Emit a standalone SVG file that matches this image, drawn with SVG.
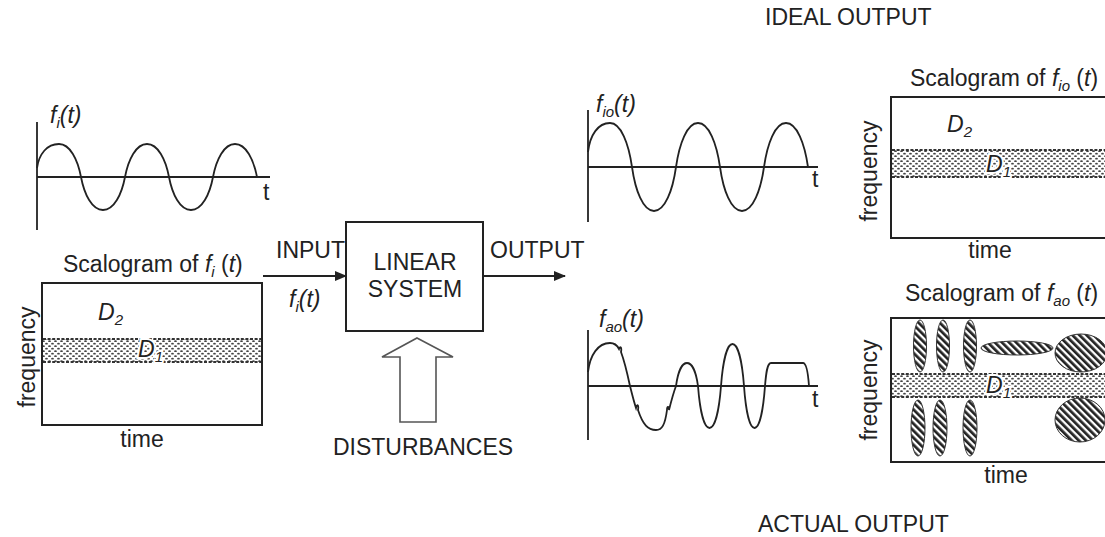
<svg xmlns="http://www.w3.org/2000/svg" width="1105" height="537" viewBox="0 0 1105 537">
<defs>
<style>
text{font-family:"Liberation Sans",Arial,sans-serif;font-size:23px;fill:#222}
.it{font-style:italic}
.ln{fill:none;stroke:#222;stroke-width:1.8}
.wave{fill:none;stroke:#222;stroke-width:1.8}
.box{fill:none;stroke:#222;stroke-width:2}
.band{fill:url(#dots)}
.bandedge{stroke:#333;stroke-width:1.8;stroke-dasharray:3 1.6;fill:none}
.hat{fill:url(#hatch);stroke:#333;stroke-width:1}
.lbl{paint-order:stroke;stroke:#fff;stroke-width:4}
</style>
<pattern id="dots" patternUnits="userSpaceOnUse" width="6" height="5">
<rect width="6" height="5" fill="#fff"/>
<ellipse cx="1.5" cy="1.2" rx="1.4" ry="0.9" fill="#444"/>
<ellipse cx="4.5" cy="3.7" rx="1.4" ry="0.9" fill="#444"/>
</pattern>
<pattern id="hatch" patternUnits="userSpaceOnUse" width="5" height="5" patternTransform="rotate(-45)">
<rect width="5" height="5" fill="#fff"/>
<rect width="2.7" height="5" fill="#222"/>
</pattern>
<marker id="arr" markerWidth="12" markerHeight="10" refX="11" refY="5" orient="auto" markerUnits="userSpaceOnUse">
<path d="M0,0 L12,5 L0,10 z" fill="#222"/>
</marker>
</defs>
<rect width="1105" height="537" fill="#fff"/>

<g id="title-ideal"><text x="765" y="25">IDEAL OUTPUT</text></g>
<g id="title-actual"><text x="758" y="532">ACTUAL OUTPUT</text></g>

<g id="input-signal">
<line class="ln" x1="37" y1="122" x2="37" y2="230"/>
<line class="ln" x1="37" y1="177" x2="270" y2="177"/>
<path class="wave" d="M37,168 c2,-14 10,-24 22,-24 c11,0 18.7,15.5 22,33 c3.3,17.5 11,33 22,33 c11,0 18.7,-15.5 22,-33 c3.3,-17.5 11,-33 22,-33 c11,0 18.7,15.5 22,33 c3.3,17.5 11,33 22,33 c11,0 18.7,-15.5 22,-33 c3.3,-17.5 11,-33 22,-33 c11,0 18.7,15.5 22,33"/>
<text x="50" y="123" class="it">f<tspan font-size="15" dy="5">i</tspan><tspan dy="-5">(t)</tspan></text>
<text x="263" y="200">t</text>
</g>

<g id="input-scalogram">
<text x="63" y="272">Scalogram of <tspan class="it">f</tspan><tspan class="it" font-size="15" dy="5">i</tspan><tspan dy="-5"> (</tspan><tspan class="it">t</tspan>)</text>
<rect class="band" x="43" y="339" width="218" height="23"/>
<line class="bandedge" x1="43" y1="339" x2="261" y2="339"/>
<line class="bandedge" x1="43" y1="362" x2="261" y2="362"/>
<rect class="box" x="42" y="283" width="220" height="142"/>
<text x="98" y="320" class="it">D<tspan font-size="15" dy="5">2</tspan></text>
<text x="138" y="357" class="it lbl">D<tspan font-size="15" dy="5">1</tspan></text>
<text x="142" y="447" text-anchor="middle">time</text>
<text x="35" y="357" text-anchor="middle" transform="rotate(-90 35 357)">frequency</text>
</g>

<g id="linear-system">
<rect class="box" x="346" y="222" width="137" height="109"/>
<text x="415" y="270" text-anchor="middle">LINEAR</text>
<text x="415" y="297" text-anchor="middle">SYSTEM</text>
</g>

<g id="disturbances">
<polygon points="417,338 453,357 436,357 436,422 400,422 400,357 382,357" fill="#fff" stroke="#555" stroke-width="1.6"/>
<text x="423" y="455" text-anchor="middle">DISTURBANCES</text>
</g>

<g id="connectors">
<line class="ln" x1="263" y1="276" x2="346" y2="276" marker-end="url(#arr)"/>
<line class="ln" x1="483" y1="276" x2="565" y2="276" marker-end="url(#arr)"/>
<text x="276" y="258">INPUT</text>
<text x="289" y="307" class="it">f<tspan font-size="15" dy="5">i</tspan><tspan dy="-5">(t)</tspan></text>
<text x="490" y="258">OUTPUT</text>
</g>

<g id="ideal-signal">
<line class="ln" x1="588" y1="110" x2="588" y2="222"/>
<line class="ln" x1="588" y1="167" x2="818" y2="167"/>
<path class="wave" d="M588,152 c2,-17 10,-29 22,-29 c11,0 18.7,20.7 22,44 c3.3,23.3 11,44 22,44 c11,0 18.7,-20.7 22,-44 c3.3,-23.3 11,-44 22,-44 c11,0 18.7,20.7 22,44 c3.3,23.3 11,44 22,44 c11,0 18.7,-20.7 22,-44 c3.3,-23.3 11,-44 22,-44 c11,0 18.7,20.7 22,44"/>
<text x="596" y="112" class="it">f<tspan font-size="15" dy="5">io</tspan><tspan dy="-5">(t)</tspan></text>
<text x="812" y="187">t</text>
</g>

<g id="ideal-scalogram">
<text x="910" y="86">Scalogram of <tspan class="it">f</tspan><tspan class="it" font-size="15" dy="5">io</tspan><tspan dy="-5"> (</tspan><tspan class="it">t</tspan>)</text>
<rect class="band" x="892" y="150" width="215" height="27"/>
<line class="bandedge" x1="892" y1="150" x2="1107" y2="150"/>
<line class="bandedge" x1="892" y1="177" x2="1107" y2="177"/>
<rect class="box" x="891" y="97" width="216" height="141"/>
<text x="947" y="132" class="it">D<tspan font-size="15" dy="5">2</tspan></text>
<text x="986" y="172" class="it lbl">D<tspan font-size="15" dy="5">1</tspan></text>
<text x="990" y="258" text-anchor="middle">time</text>
<text x="877" y="171" text-anchor="middle" transform="rotate(-90 877 171)">frequency</text>
</g>

<g id="actual-signal">
<line class="ln" x1="588" y1="330" x2="588" y2="440"/>
<line class="ln" x1="588" y1="386" x2="818" y2="386"/>
<path class="wave" d="M588,372 c2,-17 10,-29 22,-29 c4,0 7,2 9,6 c1,-3 3,-2 2,3 c3,8 6,20 9,34 c2,8 4,16 6,22 c1,-4 3,-4 2,2 c5,15 10,20 18,20 c6,0 9,-5 11,-20 c0,-4 2,-4 2,0 c2,-8 4,-16 7,-24 c1.65,-12.2 5.5,-23 11,-23 c5.5,0 9.35,10.8 11,23 c1.7,22.3 5.75,42 11.5,42 c5.75,0 9.8,-19.7 11.5,-42 c1.7,-22.3 5.75,-42 11.5,-42 c5.75,0 9.8,19.7 11.5,42 c1.6,22.3 5.25,42 10.5,42 c5.25,0 8.9,-19.7 10.5,-42 c1,-12 2,-23 6,-23 L803,363 C806,363 808,372 809,386"/>
<text x="599" y="327" class="it">f<tspan font-size="15" dy="5">ao</tspan><tspan dy="-5">(t)</tspan></text>
<text x="812" y="407">t</text>
</g>

<g id="actual-scalogram">
<text x="905" y="301">Scalogram of <tspan class="it">f</tspan><tspan class="it" font-size="15" dy="5">ao</tspan><tspan dy="-5"> (</tspan><tspan class="it">t</tspan>)</text>
<rect class="band" x="892" y="374" width="215" height="23"/>
<line class="bandedge" x1="892" y1="374" x2="1107" y2="374"/>
<line class="bandedge" x1="892" y1="397" x2="1107" y2="397"/>
<ellipse class="hat" cx="920" cy="346" rx="6.5" ry="26"/>
<ellipse class="hat" cx="943" cy="346" rx="6.5" ry="26"/>
<ellipse class="hat" cx="970" cy="346" rx="6.5" ry="26"/>
<ellipse class="hat" cx="918" cy="428" rx="7" ry="28"/>
<ellipse class="hat" cx="940" cy="428" rx="7" ry="28"/>
<ellipse class="hat" cx="970" cy="428" rx="7" ry="28"/>
<ellipse class="hat" cx="1017" cy="348" rx="36" ry="7"/>
<ellipse class="hat" cx="1081" cy="353" rx="26" ry="19"/>
<ellipse class="hat" cx="1080" cy="420" rx="25" ry="22"/>
<rect class="box" x="891" y="318" width="216" height="144"/>
<text x="986" y="393" class="it lbl">D<tspan font-size="15" dy="5">1</tspan></text>
<text x="1006" y="483" text-anchor="middle">time</text>
<text x="877" y="390" text-anchor="middle" transform="rotate(-90 877 390)">frequency</text>
</g>
</svg>
